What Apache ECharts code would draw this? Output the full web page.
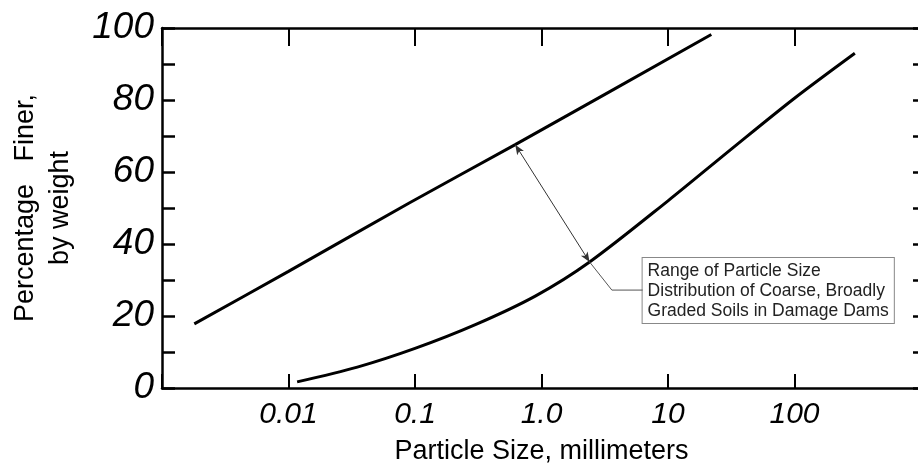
<!DOCTYPE html>
<html>
<head>
<meta charset="utf-8">
<script src="https://cdn.jsdelivr.net/npm/echarts@6/dist/echarts.min.js"></script>
<style>
  html, body { margin: 0; padding: 0; background: #fff; }
  #chart { width: 918px; height: 466px; }
</style>
</head>
<body>
<div id="chart"></div>
<script>
// upper boundary of the range (size in mm, percent finer)
const upperSize = [0.0018, 0.01, 0.09, 0.62, 22];
const upperFiner = [17.8, 32.4, 51.4, 67.6, 98.2];

// lower boundary
const lowerSize = [0.0117, 0.035, 0.1, 0.3, 0.9, 2.4, 10, 32, 100, 300];
const lowerFiner = [1.7, 5.8, 11, 17.6, 25.6, 35, 52, 66.5, 80.5, 93];

// tick labels
const xTickValues = [0.01, 0.1, 1, 10, 100];
const xTickLabels = ["0.01", "0.1", "1.0", "10", "100"];
const yTickValues = [0, 20, 40, 60, 80, 100];
const yTickLabels = ["0", "20", "40", "60", "80", "100"];

// annotation: double arrow between curves, leader line, note box
const rangeArrow = [[0.62, 67.6], [2.4, 35]];
const leaderLine = [[2.4, 35], [3.6, 27.2], [6.3, 27.2]];
const noteAnchor = [6.3, 36.1];
const noteText = [
  "Range of Particle Size",
  "Distribution of Coarse, Broadly",
  "Graded Soils in Damage Dams",
];

const handFont = "Liberation Sans";
const plainFont = "Liberation Sans";

function xLabel(v) {
  for (let i = 0; i < xTickValues.length; i++) {
    if (Math.abs(Math.log10(v) - Math.log10(xTickValues[i])) < 1e-6) return xTickLabels[i];
  }
  return "";
}
function yLabel(v) {
  const i = yTickValues.indexOf(Math.round(v));
  return i >= 0 ? yTickLabels[i] : "";
}

const zip = (a, b) => a.map((v, i) => [v, b[i]]);

const chart = echarts.init(document.getElementById("chart"));
const axisLine = { show: true, onZero: false, lineStyle: { color: "#000", width: 2.5 } };

const option = {
  animation: false,
  grid: { left: 162, top: 28, bottom: 78, right: -3, outerBoundsMode: "none", containLabel: false },
  xAxis: [
    {
      type: "log",
      logBase: 10,
      min: 0.001,
      max: 1000,
      position: "bottom",
      axisLine: axisLine,
      axisTick: { show: true, inside: true, length: 14, lineStyle: { color: "#000", width: 2 } },
      splitLine: { show: false },
      minorTick: { show: false },
      axisLabel: {
        margin: 12,
        color: "#000",
        fontFamily: handFont,
        fontStyle: "italic",
        fontSize: 30,
        formatter: xLabel,
      },
      name: "Particle Size, millimeters",
      nameLocation: "middle",
      nameGap: 50,
      nameTextStyle: { color: "#000", fontFamily: plainFont, fontSize: 27 },
    },
    {
      type: "log",
      logBase: 10,
      min: 0.001,
      max: 1000,
      position: "top",
      axisLine: axisLine,
      axisTick: { show: true, inside: true, length: 18, lineStyle: { color: "#000", width: 2 } },
      splitLine: { show: false },
      axisLabel: { show: false },
    },
  ],
  yAxis: [
    {
      type: "value",
      min: 0,
      max: 100,
      interval: 10,
      position: "left",
      axisLine: axisLine,
      axisTick: { show: true, inside: true, length: 13, lineStyle: { color: "#000", width: 2.5 } },
      splitLine: { show: false },
      axisLabel: {
        margin: 8,
        color: "#000",
        fontFamily: handFont,
        fontStyle: "italic",
        fontSize: 37,
        formatter: yLabel,
      },
      name: "Percentage   Finer,\nby weight",
      nameLocation: "middle",
      nameRotate: 90,
      nameGap: 84,
      nameTextStyle: { color: "#000", fontFamily: plainFont, fontSize: 27, lineHeight: 35 },
    },
    {
      type: "value",
      min: 0,
      max: 100,
      interval: 10,
      position: "right",
      axisLine: axisLine,
      axisTick: { show: true, inside: true, length: 8, lineStyle: { color: "#000", width: 2.5 } },
      splitLine: { show: false },
      axisLabel: { show: false },
    },
  ],
  series: [
    {
      name: "upper",
      type: "line",
      data: zip(upperSize, upperFiner),
      showSymbol: false,
      smooth: 0.2,
      lineStyle: { color: "#000", width: 3 },
      silent: true,
    },
    {
      name: "lower",
      type: "line",
      data: zip(lowerSize, lowerFiner),
      showSymbol: false,
      smooth: 0.3,
      lineStyle: { color: "#000", width: 3 },
      silent: true,
      markLine: {
        silent: true,
        symbol: ["arrow", "arrow"],
        symbolSize: [6, 10],
        label: { show: false },
        lineStyle: { color: "#333", width: 1, type: "solid" },
        data: [[{ coord: rangeArrow[0] }, { coord: rangeArrow[1] }]],
      },
    },
    {
      name: "leader",
      type: "line",
      data: leaderLine,
      showSymbol: false,
      lineStyle: { color: "#555", width: 1 },
      silent: true,
    },
  ],
};

chart.setOption(option);

// note box anchored at a data point
const p = chart.convertToPixel({ xAxisIndex: 0, yAxisIndex: 0 }, noteAnchor);
chart.setOption({
  graphic: [
    {
      type: "text",
      x: p[0],
      y: p[1],
      silent: true,
      style: {
        text: noteText.join("\n"),
        fill: "#222",
        font: "17.5px " + plainFont,
        lineHeight: 20,
        backgroundColor: "#fff",
        borderColor: "#888",
        borderWidth: 1,
        padding: [3, 5, 2, 5],
      },
    },
  ],
});

window.onresize = chart.resize;
</script>
</body>
</html>
